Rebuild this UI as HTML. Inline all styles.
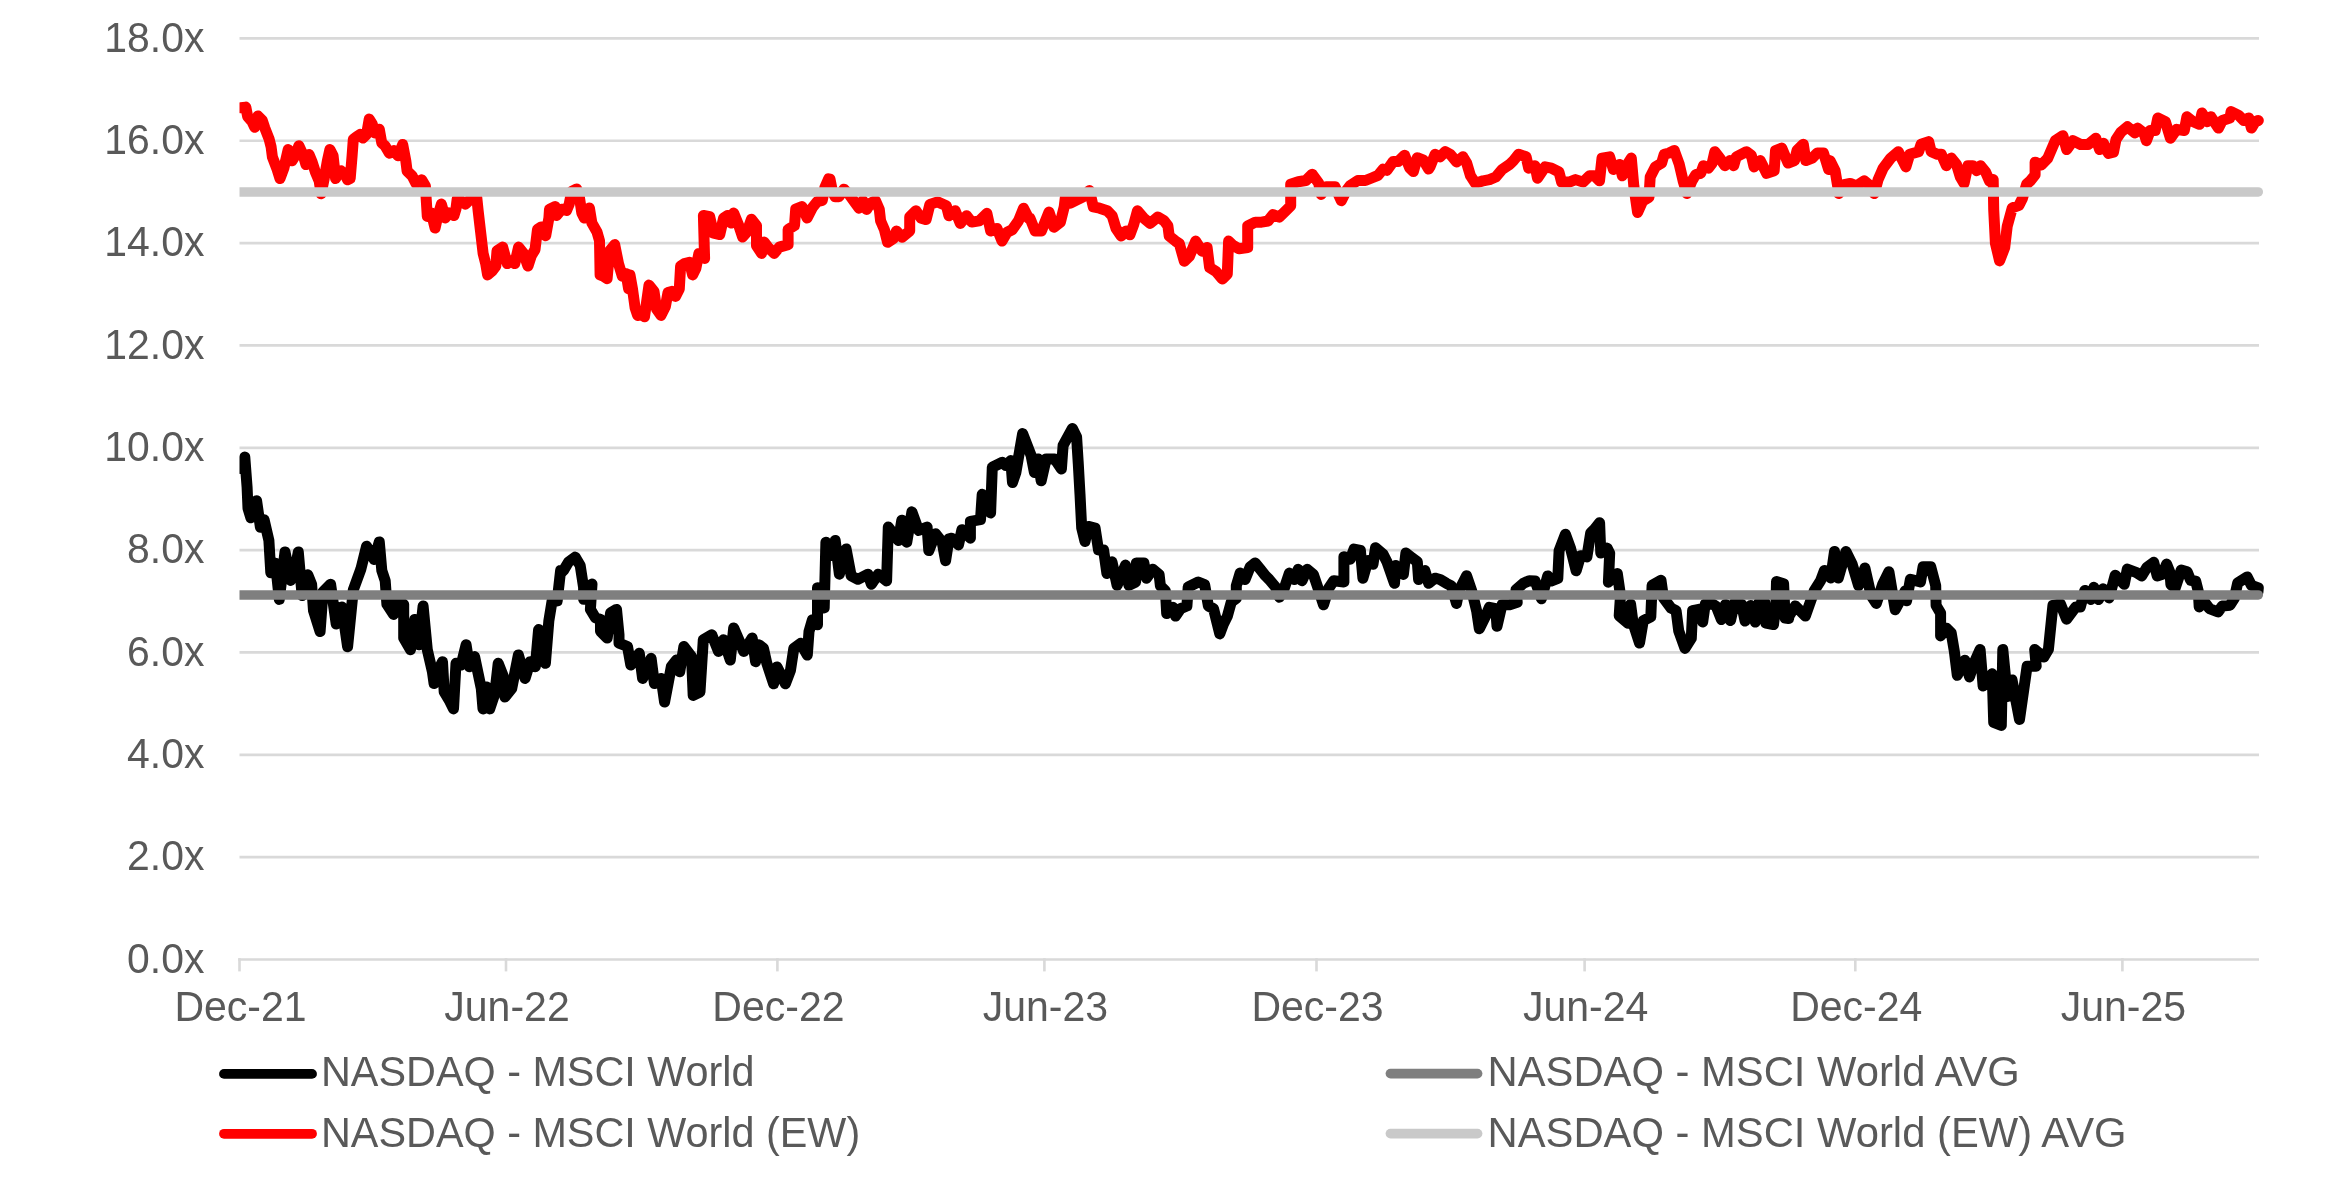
<!DOCTYPE html>
<html><head><meta charset="utf-8"><style>
html,body{margin:0;padding:0;background:#fff;width:2333px;height:1186px;overflow:hidden}
.t{font-family:"Liberation Sans",sans-serif;font-size:42px;fill:#595959}
</style></head><body>
<svg width="2333" height="1186" viewBox="0 0 2333 1186" style="position:absolute;left:0;top:0;will-change:transform">
<defs><clipPath id="pc"><rect x="239.5" y="0" width="2100" height="1000"/></clipPath></defs>
<line x1="239.5" y1="857.16" x2="2259" y2="857.16" stroke="#d9d9d9" stroke-width="2.7"/>
<line x1="239.5" y1="754.81" x2="2259" y2="754.81" stroke="#d9d9d9" stroke-width="2.7"/>
<line x1="239.5" y1="652.47" x2="2259" y2="652.47" stroke="#d9d9d9" stroke-width="2.7"/>
<line x1="239.5" y1="550.12" x2="2259" y2="550.12" stroke="#d9d9d9" stroke-width="2.7"/>
<line x1="239.5" y1="447.78" x2="2259" y2="447.78" stroke="#d9d9d9" stroke-width="2.7"/>
<line x1="239.5" y1="345.43" x2="2259" y2="345.43" stroke="#d9d9d9" stroke-width="2.7"/>
<line x1="239.5" y1="243.09" x2="2259" y2="243.09" stroke="#d9d9d9" stroke-width="2.7"/>
<line x1="239.5" y1="140.74" x2="2259" y2="140.74" stroke="#d9d9d9" stroke-width="2.7"/>
<line x1="239.5" y1="38.40" x2="2259" y2="38.40" stroke="#d9d9d9" stroke-width="2.7"/>
<line x1="238.2" y1="959.5" x2="2259" y2="959.5" stroke="#d9d9d9" stroke-width="2.7"/>
<line x1="239.5" y1="958.15" x2="239.5" y2="971.4" stroke="#d9d9d9" stroke-width="2.6"/>
<line x1="506.0" y1="958.15" x2="506.0" y2="971.4" stroke="#d9d9d9" stroke-width="2.6"/>
<line x1="777.4" y1="958.15" x2="777.4" y2="971.4" stroke="#d9d9d9" stroke-width="2.6"/>
<line x1="1044.4" y1="958.15" x2="1044.4" y2="971.4" stroke="#d9d9d9" stroke-width="2.6"/>
<line x1="1316.5" y1="958.15" x2="1316.5" y2="971.4" stroke="#d9d9d9" stroke-width="2.6"/>
<line x1="1584.6" y1="958.15" x2="1584.6" y2="971.4" stroke="#d9d9d9" stroke-width="2.6"/>
<line x1="1855.3" y1="958.15" x2="1855.3" y2="971.4" stroke="#d9d9d9" stroke-width="2.6"/>
<line x1="2122.4" y1="958.15" x2="2122.4" y2="971.4" stroke="#d9d9d9" stroke-width="2.6"/>
<text x="204.5" y="972.70" text-anchor="end" class="t" transform="translate(204.5 0) scale(0.975 1) translate(-204.5 0)">0.0x</text>
<text x="204.5" y="870.36" text-anchor="end" class="t" transform="translate(204.5 0) scale(0.975 1) translate(-204.5 0)">2.0x</text>
<text x="204.5" y="768.01" text-anchor="end" class="t" transform="translate(204.5 0) scale(0.975 1) translate(-204.5 0)">4.0x</text>
<text x="204.5" y="665.67" text-anchor="end" class="t" transform="translate(204.5 0) scale(0.975 1) translate(-204.5 0)">6.0x</text>
<text x="204.5" y="563.32" text-anchor="end" class="t" transform="translate(204.5 0) scale(0.975 1) translate(-204.5 0)">8.0x</text>
<text x="204.5" y="460.98" text-anchor="end" class="t" transform="translate(204.5 0) scale(0.975 1) translate(-204.5 0)">10.0x</text>
<text x="204.5" y="358.63" text-anchor="end" class="t" transform="translate(204.5 0) scale(0.975 1) translate(-204.5 0)">12.0x</text>
<text x="204.5" y="256.29" text-anchor="end" class="t" transform="translate(204.5 0) scale(0.975 1) translate(-204.5 0)">14.0x</text>
<text x="204.5" y="153.94" text-anchor="end" class="t" transform="translate(204.5 0) scale(0.975 1) translate(-204.5 0)">16.0x</text>
<text x="204.5" y="51.60" text-anchor="end" class="t" transform="translate(204.5 0) scale(0.975 1) translate(-204.5 0)">18.0x</text>
<text x="240.5" y="1021.5" text-anchor="middle" class="t" transform="translate(240.5 0) scale(0.977 1) translate(-240.5 0)">Dec-21</text>
<text x="507.0" y="1021.5" text-anchor="middle" class="t" transform="translate(507.0 0) scale(0.977 1) translate(-507.0 0)">Jun-22</text>
<text x="778.4" y="1021.5" text-anchor="middle" class="t" transform="translate(778.4 0) scale(0.977 1) translate(-778.4 0)">Dec-22</text>
<text x="1045.4" y="1021.5" text-anchor="middle" class="t" transform="translate(1045.4 0) scale(0.977 1) translate(-1045.4 0)">Jun-23</text>
<text x="1317.5" y="1021.5" text-anchor="middle" class="t" transform="translate(1317.5 0) scale(0.977 1) translate(-1317.5 0)">Dec-23</text>
<text x="1585.6" y="1021.5" text-anchor="middle" class="t" transform="translate(1585.6 0) scale(0.977 1) translate(-1585.6 0)">Jun-24</text>
<text x="1856.3" y="1021.5" text-anchor="middle" class="t" transform="translate(1856.3 0) scale(0.977 1) translate(-1856.3 0)">Dec-24</text>
<text x="2123.4" y="1021.5" text-anchor="middle" class="t" transform="translate(2123.4 0) scale(0.977 1) translate(-2123.4 0)">Jun-25</text>
<path clip-path="url(#pc)" d="M240.4,468.5 L244.8,457.1 L247.1,487.4 L248.0,508.3 L250.9,517.8 L256.6,500.7 L260.4,527.3 L264.1,519.7 L268.9,540.6 L270.8,572.8 L275.5,563.3 L279.3,599.4 L285.0,551.9 L290.7,580.4 L294.5,572.8 L298.3,551.9 L302.1,595.6 L307.8,574.7 L311.6,584.2 L313.5,610.7 L320.1,631.6 L323.0,591.8 L330.6,584.2 L336.2,624.0 L341.9,607.0 L347.6,646.8 L353.3,589.9 L360.9,569.0 L366.6,546.2 L374.2,559.5 L379.3,541.9 L381.8,570.6 L385.2,580.7 L386.9,604.3 L393.6,614.4 L397.0,599.3 L403.7,604.3 L403.7,638.0 L410.5,649.8 L414.7,619.5 L418.9,644.8 L423.1,606.0 L427.3,649.8 L432.4,671.8 L434.1,683.6 L439.1,668.4 L442.5,661.7 L444.2,692.0 L449.3,700.4 L453.5,708.9 L456.0,663.3 L461.1,665.0 L466.1,644.8 L469.5,666.7 L474.6,656.6 L481.3,688.6 L483.0,708.9 L486.4,686.9 L489.7,708.9 L494.8,693.7 L498.2,663.3 L504.9,680.2 L504.9,697.1 L511.7,688.6 L518.4,654.9 L525.1,678.5 L530.2,661.7 L535.3,666.7 L538.6,629.6 L545.4,663.3 L548.8,621.2 L552.1,600.9 L557.2,600.9 L560.6,570.6 L563.4,570.6 L568.4,562.2 L575.2,557.1 L580.2,565.5 L583.6,587.5 L583.6,599.3 L588.7,585.8 L592.0,584.1 L590.4,609.4 L595.4,617.8 L600.5,619.5 L600.5,631.3 L607.2,638.0 L610.6,612.7 L616.5,609.4 L619.0,634.7 L619.0,643.1 L627.5,646.5 L630.8,665.0 L639.3,653.2 L642.6,678.5 L651.1,658.3 L654.4,683.6 L661.2,678.5 L664.6,702.1 L671.3,666.7 L676.4,660.0 L679.7,671.8 L683.9,646.5 L691.5,656.6 L693.2,695.4 L700.0,692.0 L703.3,639.7 L711.8,634.7 L718.5,651.5 L723.6,639.7 L730.3,660.0 L733.7,627.9 L743.8,651.5 L752.2,638.0 L755.6,661.7 L759.0,644.8 L763.5,648.4 L766.9,663.6 L773.6,683.8 L777.0,666.9 L785.4,683.8 L790.5,670.3 L793.8,648.4 L800.6,643.3 L807.3,655.1 L809.0,631.5 L812.4,619.7 L817.5,624.8 L817.5,587.7 L824.2,607.9 L825.9,542.2 L832.6,555.6 L835.2,540.5 L839.4,574.2 L846.1,548.9 L851.2,575.9 L857.9,579.3 L868.0,574.2 L871.4,584.3 L878.2,574.2 L886.6,580.9 L888.3,527.0 L898.4,540.5 L901.8,520.2 L906.8,542.2 L911.9,511.8 L918.6,530.4 L927.1,527.0 L928.8,550.6 L935.5,533.7 L942.2,542.2 L945.6,560.7 L949.0,538.8 L951.8,538.2 L958.5,544.9 L961.9,529.7 L970.4,538.2 L970.4,521.3 L980.5,519.6 L982.2,494.3 L990.6,512.9 L992.3,467.3 L1002.4,462.3 L1005.8,465.6 L1010.8,460.6 L1012.5,482.5 L1015.9,472.4 L1022.6,433.6 L1031.1,455.5 L1034.4,472.4 L1037.8,458.9 L1041.2,480.8 L1046.2,458.9 L1054.7,458.9 L1061.4,469.0 L1063.1,445.4 L1072.4,428.5 L1076.6,437.0 L1078.3,464.0 L1080.0,494.3 L1081.7,528.0 L1085.0,541.5 L1088.4,526.4 L1095.1,528.0 L1098.5,550.0 L1103.6,550.0 L1106.9,573.6 L1112.0,561.8 L1117.1,585.4 L1125.5,565.1 L1128.9,585.4 L1135.6,582.0 L1136.3,563.0 L1143.9,563.0 L1146.4,578.2 L1152.8,569.3 L1159.1,574.4 L1160.4,585.8 L1165.4,590.8 L1166.7,613.6 L1173.0,607.3 L1175.5,616.1 L1180.6,608.6 L1186.9,606.0 L1188.2,587.0 L1198.3,582.0 L1204.6,584.5 L1208.4,606.0 L1213.5,608.6 L1219.8,633.9 L1223.6,623.7 L1227.4,616.1 L1231.2,602.2 L1236.3,598.4 L1236.3,585.8 L1240.1,573.1 L1245.1,579.5 L1250.2,566.8 L1255.2,563.0 L1260.3,569.3 L1265.4,575.7 L1269.2,579.5 L1275.5,587.0 L1279.3,597.2 L1284.3,588.3 L1289.4,573.1 L1294.5,579.5 L1298.2,569.3 L1302.0,580.7 L1307.1,569.3 L1313.4,574.4 L1318.5,589.6 L1323.5,604.8 L1328.6,588.3 L1333.8,580.7 L1343.9,582.0 L1343.9,556.7 L1350.2,559.2 L1354.0,549.1 L1360.4,550.4 L1362.9,578.2 L1368.0,560.5 L1373.0,564.3 L1375.5,547.8 L1383.1,554.2 L1386.9,561.7 L1394.5,583.3 L1395.8,565.5 L1403.4,574.4 L1405.9,552.9 L1412.2,558.0 L1417.3,561.7 L1418.6,579.5 L1424.9,570.6 L1428.7,583.3 L1435.0,578.2 L1440.1,579.5 L1446.4,583.3 L1451.4,585.8 L1456.5,603.5 L1459.0,590.8 L1466.6,575.7 L1471.7,590.8 L1476.7,611.1 L1479.3,628.8 L1485.6,616.1 L1489.4,607.3 L1495.7,608.6 L1497.0,626.3 L1502.0,604.8 L1509.6,604.8 L1517.2,602.2 L1516.0,589.6 L1523.5,583.3 L1529.2,580.7 L1535.1,581.0 L1541.4,598.7 L1547.7,575.9 L1551.5,581.0 L1557.8,578.4 L1559.1,550.6 L1565.4,534.2 L1570.5,548.1 L1576.2,570.8 L1580.6,555.7 L1586.9,556.9 L1590.7,532.9 L1594.5,529.1 L1599.6,522.8 L1600.8,553.1 L1607.2,548.1 L1609.7,553.1 L1608.4,582.2 L1617.3,573.4 L1620.5,595.4 L1619.2,615.7 L1628.1,623.3 L1630.6,604.3 L1633.1,623.3 L1639.5,643.0 L1643.3,620.7 L1650.8,616.9 L1652.1,585.3 L1661.0,580.2 L1663.5,598.0 L1671.1,608.1 L1676.1,610.6 L1678.7,630.8 L1685.0,648.4 L1691.3,638.4 L1692.6,610.6 L1698.9,609.3 L1702.7,622.0 L1705.2,604.3 L1712.8,604.3 L1716.3,606.4 L1721.4,619.6 L1725.4,604.4 L1730.5,620.6 L1734.5,602.9 L1741.6,604.4 L1745.1,621.1 L1750.7,605.4 L1755.3,622.1 L1758.8,602.9 L1764.9,602.4 L1765.9,623.1 L1773.5,624.6 L1776.0,602.9 L1776.5,581.6 L1783.6,583.7 L1785.1,618.1 L1788.6,618.6 L1789.0,616.0 L1795.3,605.9 L1805.4,616.0 L1814.3,590.7 L1820.6,580.6 L1824.4,570.5 L1830.7,578.1 L1834.5,551.5 L1838.3,578.1 L1845.9,551.5 L1852.2,564.2 L1858.6,585.7 L1864.9,568.0 L1871.2,595.8 L1876.3,603.4 L1882.6,584.4 L1888.9,571.7 L1895.2,609.7 L1905.4,590.7 L1906.6,600.8 L1910.4,579.3 L1920.5,581.9 L1923.1,566.7 L1930.7,566.7 L1935.7,585.7 L1936.1,605.5 L1940.6,613.1 L1940.6,635.9 L1946.7,628.3 L1951.2,632.8 L1954.3,651.1 L1957.3,675.3 L1964.9,660.2 L1969.5,676.9 L1974.0,663.2 L1980.1,649.5 L1983.1,686.0 L1992.2,673.8 L1993.7,722.4 L2001.3,725.4 L2002.8,649.5 L2007.4,696.6 L2012.0,679.9 L2019.5,719.4 L2027.1,666.2 L2036.2,666.2 L2034.7,649.5 L2043.8,657.1 L2048.4,649.5 L2052.9,605.5 L2060.5,604.0 L2066.6,619.2 L2075.7,607.0 L2080.3,607.0 L2084.8,590.4 L2090.9,599.5 L2093.9,587.3 L2098.5,599.5 L2103.0,588.8 L2109.1,597.9 L2115.2,575.2 L2124.3,584.3 L2127.3,569.1 L2136.6,572.6 L2141.7,576.0 L2146.9,567.4 L2153.7,562.3 L2157.2,576.0 L2162.3,574.3 L2166.6,564.0 L2170.0,572.6 L2170.9,584.6 L2175.2,588.0 L2181.2,570.0 L2187.2,571.7 L2190.6,580.3 L2195.7,581.1 L2198.3,591.4 L2199.2,606.9 L2204.3,601.7 L2209.4,608.6 L2218.0,612.0 L2222.3,606.0 L2230.0,605.2 L2234.3,598.3 L2237.7,582.9 L2247.2,576.9 L2251.5,585.4 L2258.3,588.0 L2257.9,592.3" fill="none" stroke="#000" stroke-width="11" stroke-linejoin="round" stroke-linecap="round"/>
<line clip-path="url(#pc)" x1="239.5" y1="594.9" x2="2258.3" y2="594.9" stroke="#7f7f7f" stroke-width="9.5" stroke-linecap="round"/>
<path clip-path="url(#pc)" d="M240.8,107.7 L245.8,107.1 L247.7,116.6 L252.1,121.6 L254.7,127.3 L257.8,115.9 L262.3,120.4 L264.8,128.0 L269.2,139.3 L271.1,146.9 L272.4,157.0 L276.8,168.4 L280.0,178.6 L283.8,168.4 L288.2,149.5 L292.0,160.8 L295.1,155.8 L298.9,145.7 L303.4,155.8 L305.9,164.6 L309.1,154.5 L312.2,162.1 L315.4,172.2 L319.2,181.1 L321.1,193.7 L324.2,178.6 L327.4,160.8 L329.9,149.5 L333.1,155.8 L335.6,178.6 L338.2,173.5 L341.3,171.0 L344.5,173.5 L347.6,179.8 L350.2,178.6 L352.1,155.8 L353.3,139.3 L356.5,136.8 L360.3,134.3 L362.8,138.1 L366.6,134.3 L369.2,119.1 L372.3,124.2 L374.8,133.0 L379.3,129.2 L381.8,143.1 L385.0,145.7 L389.4,153.3 L393.8,150.7 L398.2,155.8 L402.7,144.4 L405.8,160.8 L407.1,171.0 L412.2,176.0 L416.0,183.6 L421.7,179.8 L425.4,186.1 L427.3,216.5 L431.3,213.0 L435.1,228.1 L437.6,216.7 L441.4,204.1 L445.2,218.0 L449.0,213.0 L454.0,215.5 L455.9,209.2 L457.2,199.0 L460.4,200.3 L465.4,204.1 L469.2,200.3 L476.8,197.8 L478.1,210.4 L480.6,231.9 L483.1,253.4 L485.7,263.6 L487.6,274.9 L492.0,271.1 L495.8,266.1 L497.0,250.9 L502.7,247.1 L507.2,263.6 L511.0,261.0 L514.8,263.6 L518.6,247.1 L523.6,253.4 L528.0,266.1 L531.2,256.0 L535.0,249.6 L537.5,229.4 L541.3,226.9 L545.7,235.7 L548.9,218.0 L549.5,209.2 L555.2,206.6 L556.5,215.5 L561.6,209.2 L566.6,210.4 L569.2,204.1 L571.7,191.4 L576.7,188.9 L579.3,196.5 L581.8,213.0 L584.3,218.0 L589.4,207.9 L591.9,223.1 L597.0,231.9 L599.5,240.8 L600.1,274.9 L603.3,276.2 L607.1,278.7 L609.6,250.9 L614.7,244.6 L618.5,263.6 L622.3,276.2 L626.1,273.7 L628.6,288.9 L630.0,274.9 L632.5,288.9 L635.1,307.8 L637.6,315.4 L641.4,314.2 L644.5,316.7 L649.0,285.1 L654.0,291.4 L656.6,309.1 L661.0,315.4 L665.4,306.6 L668.0,292.6 L671.7,291.4 L675.5,296.4 L679.3,288.9 L680.6,266.1 L684.4,263.6 L689.5,262.3 L692.6,274.9 L695.8,268.6 L698.9,253.4 L704.6,258.5 L703.4,215.5 L709.7,216.7 L713.5,233.2 L719.8,234.5 L723.6,218.0 L727.4,215.5 L731.2,223.1 L733.7,213.0 L738.8,225.6 L742.6,237.0 L747.0,231.9 L751.4,219.3 L756.5,225.6 L756.5,245.8 L761.6,253.4 L764.1,242.0 L767.9,247.1 L774.2,253.4 L779.3,247.1 L788.1,244.6 L788.1,229.4 L794.5,225.6 L795.7,209.2 L802.0,206.6 L807.1,218.0 L812.2,207.9 L817.2,201.6 L822.3,200.3 L824.8,187.7 L828.6,178.8 L830.0,179.1 L832.5,191.7 L835.1,196.8 L838.9,196.8 L843.9,189.2 L849.0,194.3 L855.3,203.1 L859.1,208.2 L862.9,200.6 L866.7,209.5 L870.5,203.1 L875.5,200.6 L879.3,209.5 L880.6,220.8 L884.4,229.7 L887.6,242.3 L893.3,238.6 L896.4,231.0 L902.1,237.3 L909.7,231.0 L909.7,217.0 L916.0,210.7 L921.1,218.3 L926.1,219.6 L929.9,204.4 L937.5,201.9 L946.4,205.7 L948.9,215.8 L955.2,210.7 L960.3,223.4 L966.6,215.8 L971.7,222.1 L979.3,220.8 L986.9,213.3 L990.7,231.0 L997.0,228.4 L1002.0,241.1 L1007.1,232.2 L1012.2,229.7 L1018.5,220.8 L1023.5,208.2 L1028.6,218.3 L1030.0,218.3 L1035.1,231.0 L1041.4,231.0 L1049.0,212.0 L1054.0,227.2 L1060.4,222.1 L1064.2,206.9 L1065.4,196.8 L1070.5,203.1 L1075.5,200.6 L1083.1,196.8 L1089.5,190.5 L1093.3,206.9 L1099.6,208.2 L1107.2,210.7 L1112.2,215.8 L1116.0,228.4 L1121.1,236.0 L1126.1,231.0 L1129.9,234.8 L1133.7,224.6 L1137.5,210.7 L1143.9,218.3 L1150.2,223.4 L1157.8,217.0 L1164.1,220.8 L1167.9,225.9 L1169.2,236.0 L1175.5,241.1 L1179.3,243.6 L1184.3,261.3 L1189.4,256.3 L1195.7,241.1 L1202.0,251.2 L1207.1,247.4 L1209.6,267.6 L1216.0,271.4 L1222.3,279.0 L1227.3,274.0 L1228.6,241.1 L1232.5,245.0 L1238.9,248.8 L1247.7,247.5 L1247.7,226.0 L1255.3,222.2 L1261.6,222.2 L1268.0,221.0 L1273.0,214.6 L1279.3,217.2 L1285.7,210.8 L1290.7,205.8 L1290.7,184.3 L1298.3,181.7 L1305.9,180.5 L1312.2,174.2 L1318.6,183.0 L1321.1,194.4 L1326.1,186.8 L1335.0,186.8 L1341.3,200.7 L1346.4,190.6 L1350.2,185.5 L1357.8,180.5 L1365.4,180.5 L1371.7,178.0 L1378.0,175.4 L1383.1,169.1 L1386.9,170.4 L1393.2,161.5 L1398.2,161.5 L1404.6,155.2 L1409.6,167.8 L1413.4,171.6 L1417.2,157.7 L1423.5,160.2 L1428.6,169.1 L1430.0,166.9 L1435.1,154.3 L1440.1,156.8 L1445.2,151.7 L1450.2,154.3 L1456.6,161.9 L1462.9,156.8 L1466.7,163.1 L1470.5,175.8 L1475.5,183.4 L1483.1,180.8 L1489.5,179.6 L1495.8,177.0 L1502.1,169.5 L1509.7,164.4 L1513.5,160.6 L1518.6,154.3 L1526.1,156.8 L1528.7,168.2 L1535.0,165.7 L1537.5,178.3 L1545.1,166.9 L1551.4,168.2 L1559.0,172.0 L1561.6,182.1 L1569.2,182.1 L1575.5,179.6 L1583.1,182.1 L1589.4,175.8 L1594.5,175.8 L1599.5,180.8 L1602.0,158.1 L1609.6,156.8 L1613.4,169.5 L1619.8,164.4 L1622.3,175.8 L1627.3,164.4 L1631.3,158.1 L1633.8,185.9 L1637.6,212.5 L1642.7,201.1 L1649.0,197.3 L1650.2,177.0 L1655.3,166.9 L1661.6,163.1 L1664.2,154.3 L1669.2,153.0 L1674.3,150.5 L1679.3,164.4 L1683.1,180.8 L1686.9,193.5 L1692.0,180.8 L1695.8,174.5 L1700.8,173.3 L1703.4,165.7 L1708.4,168.2 L1712.2,163.1 L1714.8,151.7 L1719.8,158.1 L1724.9,165.7 L1729.9,160.6 L1733.7,165.7 L1736.3,156.8 L1746.4,151.7 L1751.4,155.5 L1754.0,166.9 L1760.3,160.6 L1766.6,173.3 L1774.2,170.7 L1775.5,150.5 L1781.8,148.0 L1788.1,163.1 L1794.5,160.6 L1797.0,150.5 L1803.3,144.2 L1805.8,160.6 L1812.2,158.1 L1817.2,153.0 L1823.5,153.0 L1828.6,169.5 L1830.0,160.6 L1835.1,170.7 L1838.9,193.5 L1843.9,184.6 L1850.2,183.4 L1856.6,185.9 L1864.2,180.8 L1870.5,185.9 L1874.3,193.5 L1878.1,179.6 L1883.1,168.2 L1890.7,158.1 L1898.3,151.7 L1905.9,166.9 L1909.7,154.3 L1918.6,151.7 L1921.1,144.2 L1928.7,141.6 L1931.2,151.7 L1937.5,154.3 L1941.3,154.3 L1946.4,165.7 L1951.4,158.1 L1956.5,164.4 L1960.3,177.0 L1964.1,183.4 L1967.9,165.7 L1972.9,165.7 L1976.7,170.7 L1980.5,165.7 L1985.6,172.0 L1989.4,180.8 L1993.2,179.6 L1993.7,209.5 L1995.4,243.2 L1999.6,260.9 L2004.7,247.5 L2007.2,226.4 L2012.3,207.8 L2019.0,205.3 L2022.4,198.5 L2026.6,184.2 L2030.0,181.2 L2035.1,174.9 L2035.1,162.2 L2041.4,164.8 L2047.7,158.4 L2055.3,140.7 L2062.9,135.7 L2066.7,149.6 L2073.0,140.7 L2080.6,144.5 L2088.2,144.5 L2095.8,138.2 L2099.6,149.6 L2103.4,143.3 L2108.4,153.4 L2113.5,152.1 L2116.0,139.5 L2121.1,131.9 L2127.4,126.8 L2135.0,133.1 L2137.5,128.1 L2143.9,133.1 L2146.4,140.7 L2150.2,130.6 L2155.2,130.6 L2157.8,118.0 L2165.4,121.7 L2170.4,138.2 L2176.7,129.3 L2184.3,130.6 L2186.9,116.7 L2193.2,121.7 L2199.5,124.3 L2202.0,112.9 L2207.1,121.7 L2210.9,116.7 L2218.5,128.1 L2222.3,120.5 L2229.9,118.0 L2231.1,111.6 L2238.7,115.4 L2243.8,120.5 L2248.8,118.0 L2251.4,128.1 L2255.2,121.7 L2258.3,120.5" fill="none" stroke="#f00" stroke-width="11" stroke-linejoin="round" stroke-linecap="round"/>
<line clip-path="url(#pc)" x1="239.5" y1="191.9" x2="2258.3" y2="191.9" stroke="#c9c9c9" stroke-width="9.5" stroke-linecap="round"/>
<line x1="224" y1="1073.9" x2="312" y2="1073.9" stroke="#000" stroke-width="9.8" stroke-linecap="round"/>
<line x1="224" y1="1133.8" x2="312" y2="1133.8" stroke="#f00" stroke-width="9.8" stroke-linecap="round"/>
<line x1="1390.5" y1="1073.6" x2="1477.5" y2="1073.6" stroke="#7f7f7f" stroke-width="9.8" stroke-linecap="round"/>
<line x1="1390.5" y1="1133.6" x2="1477.5" y2="1133.6" stroke="#c9c9c9" stroke-width="9.8" stroke-linecap="round"/>
<text x="321" y="1086.5" class="t" transform="translate(321 0) scale(0.985 1) translate(-321 0)">NASDAQ - MSCI World</text>
<text x="321" y="1147" class="t" transform="translate(321 0) scale(0.985 1) translate(-321 0)">NASDAQ - MSCI World (EW)</text>
<text x="1487.5" y="1086.5" class="t" transform="translate(1487.5 0) scale(0.995 1) translate(-1487.5 0)">NASDAQ - MSCI World AVG</text>
<text x="1487.5" y="1147" class="t" transform="translate(1487.5 0) scale(0.995 1) translate(-1487.5 0)">NASDAQ - MSCI World (EW) AVG</text>
</svg>
</body></html>
